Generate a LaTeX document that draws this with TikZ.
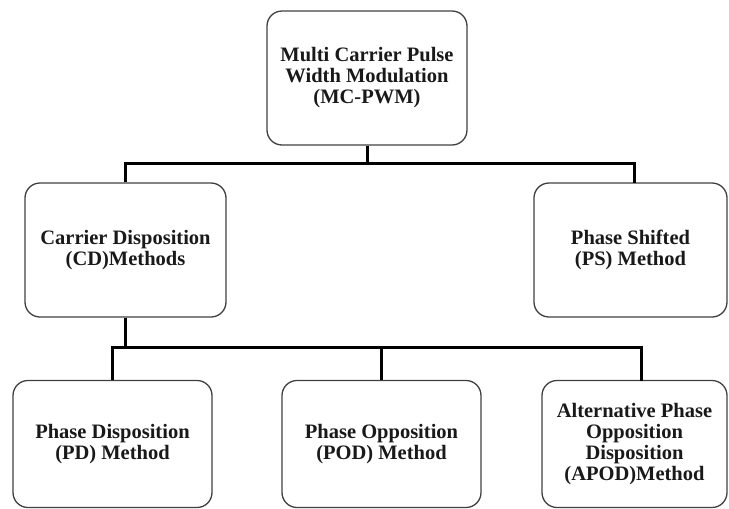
\documentclass[tikz,border=0pt]{standalone}
\usepackage{fontspec}
\setmainfont{Liberation Serif}
\begin{document}
\begin{tikzpicture}[x=1pt,y=-1pt,
  box/.style={draw=black!75, line width=1.3pt, rounded corners=15pt, align=center,
    inner sep=0pt, font=\fontsize{20.5pt}{21pt}\selectfont\bfseries, text=black!90},
  conn/.style={draw=black, line width=3pt}]
\useasboundingbox (0,0) rectangle (729,509);
\node[box, minimum width=200pt, minimum height=134pt] (top) at (367,78)
  {Multi Carrier Pulse\\Width Modulation\\(MC-PWM)};
\node[box, minimum width=201pt, minimum height=134pt] (cd) at (125.5,250)
  {Carrier Disposition\\(CD)Methods};
\node[box, minimum width=193pt, minimum height=134pt] (ps) at (630.5,250)
  {Phase Shifted\\(PS) Method};
\node[box, minimum width=199pt, minimum height=127pt] (pd) at (112.5,444)
  {Phase Disposition\\(PD) Method};
\node[box, minimum width=199pt, minimum height=127pt] (pod) at (381.5,444)
  {Phase Opposition\\(POD) Method};
\node[box, minimum width=185pt, minimum height=127pt] (apod) at (634.5,444)
  {Alternative Phase\\Opposition\\Disposition\\(APOD)Method};
\coordinate (j1) at (367,163);
\coordinate (psin) at (634,183);
\coordinate (apodin) at (641,380.5);
\draw[conn] (top.south) -- (j1);
\draw[conn] (cd.north) |- (j1) -| (psin);
\draw[conn] (cd.south) -- ++(0,31);
\draw[conn] (pd.north) -- ++(0,-32) -| (apodin);
\draw[conn] (pod.north) -- ++(0,-32);
\end{tikzpicture}
\end{document}
